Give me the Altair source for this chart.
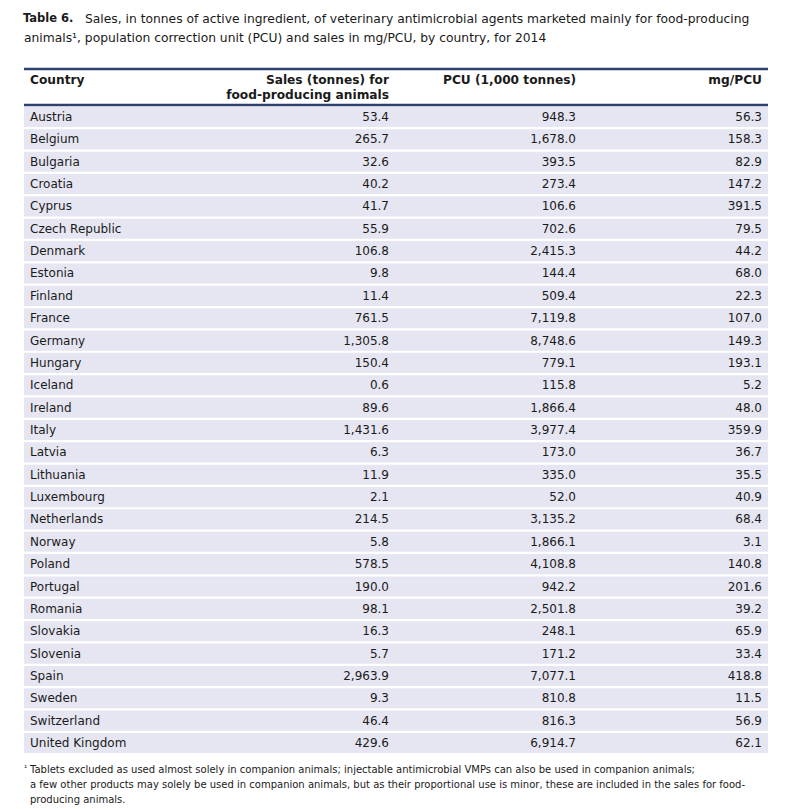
import altair as alt
import pandas as pd

countries = ["Austria", "Belgium", "Bulgaria", "Croatia", "Cyprus", "Czech Republic",
             "Denmark", "Estonia", "Finland", "France", "Germany", "Hungary", "Iceland",
             "Ireland", "Italy", "Latvia", "Lithuania", "Luxembourg", "Netherlands",
             "Norway", "Poland", "Portugal", "Romania", "Slovakia", "Slovenia", "Spain",
             "Sweden", "Switzerland", "United Kingdom"]
sales = [53.4, 265.7, 32.6, 40.2, 41.7, 55.9, 106.8, 9.8, 11.4, 761.5, 1305.8, 150.4, 0.6,
         89.6, 1431.6, 6.3, 11.9, 2.1, 214.5, 5.8, 578.5, 190.0, 98.1, 16.3, 5.7, 2963.9,
         9.3, 46.4, 429.6]
pcu = [948.3, 1678.0, 393.5, 273.4, 106.6, 702.6, 2415.3, 144.4, 509.4, 7119.8, 8748.6,
       779.1, 115.8, 1866.4, 3977.4, 173.0, 335.0, 52.0, 3135.2, 1866.1, 4108.8, 942.2,
       2501.8, 248.1, 171.2, 7077.1, 810.8, 816.3, 6914.7]
mgpcu = [56.3, 158.3, 82.9, 147.2, 391.5, 79.5, 44.2, 68.0, 22.3, 107.0, 149.3, 193.1, 5.2,
         48.0, 359.9, 36.7, 35.5, 40.9, 68.4, 3.1, 140.8, 201.6, 39.2, 65.9, 33.4, 418.8,
         11.5, 56.9, 62.1]

title_bold = "Table 6."
title_rest = "Sales, in tonnes of active ingredient, of veterinary antimicrobial agents marketed mainly for food-producing"
title_line2 = "animals\u00b9, population correction unit (PCU) and sales in mg/PCU, by country, for 2014"
headers = ["Country", "Sales (tonnes) for", "food-producing animals", "PCU (1,000 tonnes)", "mg/PCU"]
footnote_mark = "\u00b9"
footnote = [
    "Tablets excluded as used almost solely in companion animals; injectable antimicrobial VMPs can also be used in companion animals;",
    "a few  other products may solely be used in companion animals, but as their proportional use is minor, these are included in the sales for food-",
    "producing animals.",
]

FONT = "DejaVu Sans"
TXT = "#1a1a1a"
RULE = "#2c4170"
FILL = "#e6e6f2"
BODY = 12
HEAD = 12.2
TITLE = 12.3
FOOT = 10

df = pd.DataFrame({"country": countries, "sales": sales, "pcu": pcu, "mgpcu": mgpcu})

yscale = alt.Scale(domain=countries, range=[97.8, 746.2], paddingInner=0.1, paddingOuter=0.05)
Y = alt.Y("country:N", sort=countries, scale=yscale, axis=None)

base = alt.Chart(df)

bg = base.mark_rect(color=FILL).encode(y=Y, x=alt.value(16), x2=alt.value(760))

def col(field, x, align, fmt=None):
    txt = alt.Text(field, format=fmt) if fmt else alt.Text(field)
    return base.mark_text(align=align, baseline="middle", font=FONT, fontSize=BODY, color=TXT).encode(
        y=Y, x=alt.value(x), text=txt)

one = alt.Chart(pd.DataFrame({"k": [0]}))

def label(text, x, y, align="left", bold=False, size=BODY):
    return one.mark_text(align=align, baseline="middle", font=FONT, fontSize=size,
                         fontWeight="bold" if bold else "normal", color=TXT).encode(
        x=alt.value(x), y=alt.value(y), text=alt.value(text))

def rule(y):
    return one.mark_rule(color=RULE, strokeWidth=2.5).encode(
        x=alt.value(16), x2=alt.value(760), y=alt.value(y))

layers = [
    bg,
    col("country:N", 22, "left"),
    col("sales:Q", 381, "right", ",.1f"),
    col("pcu:Q", 568, "right", ",.1f"),
    col("mgpcu:Q", 754, "right", ",.1f"),
    label(title_bold, 15, 11, bold=True, size=11.5),
    label(title_rest, 77, 11, size=TITLE),
    label(title_line2, 16, 30, size=TITLE),
    rule(61), rule(97),
    label(headers[0], 22, 72, bold=True, size=HEAD),
    label(headers[1], 381, 72, align="right", bold=True, size=HEAD),
    label(headers[2], 381, 87, align="right", bold=True, size=HEAD),
    label(headers[3], 568, 72, align="right", bold=True, size=HEAD),
    label(headers[4], 754, 72, align="right", bold=True, size=HEAD),
    label(footnote_mark, 16, 761, size=8),
    label(footnote[0], 22, 762, size=FOOT),
    label(footnote[1], 22, 777, size=FOOT),
    label(footnote[2], 22, 792, size=FOOT),
]

chart = alt.layer(*layers).properties(
    width=795, height=800, padding=0, autosize=alt.AutoSizeParams(type="none")
).configure_view(stroke=None)

chart.save("out.html", embed_options={"renderer": "svg", "actions": False})
